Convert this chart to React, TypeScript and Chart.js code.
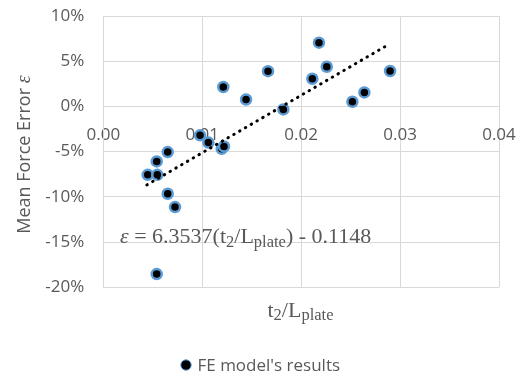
import React, { useEffect, useRef } from 'react';
import { Chart, registerables } from 'chart.js';

Chart.register(...registerables);

// ---- data ----
const X_VALUES = [0.00449, 0.00546, 0.0054, 0.00651, 0.00651, 0.00725, 0.0054, 0.00978, 0.01062, 0.01197, 0.0122, 0.01213, 0.01443, 0.01665, 0.0182, 0.02113, 0.0218, 0.02259, 0.02518, 0.02639, 0.02899];
const Y_VALUES = [-7.56, -7.56, -6.08, -5.05, -9.66, -11.13, -18.54, -3.2, -4.0, -4.68, -4.42, 2.15, 0.77, 3.9, -0.33, 3.06, 7.05, 4.39, 0.52, 1.55, 3.92];
const TREND_X = [0.0044, 0.0287];
const TREND_Y = [-8.68, 6.76];
const X_TICKS = [0, 0.01, 0.02, 0.03, 0.04];
const Y_TICKS = [-20, -15, -10, -5, 0, 5, 10];
const SERIES_LABEL = "FE model's results";
const Y_TITLE = 'Mean Force Error ';
const EPS = 'ε';
const SLOPE = '6.3537';
const INTERCEPT = '0.1148';

const GRAY = '#595959';
const GRID = '#D9D9D9';
const SANS = '"Open Sans", sans-serif';
const SERIF = '"Liberation Serif", serif';

type Seg = { t: string; f: string; dy?: number };

function drawRich(ctx: CanvasRenderingContext2D, segs: Seg[], x: number, y: number, align: 'left' | 'center') {
  const widths = segs.map((s) => {
    ctx.font = s.f;
    return ctx.measureText(s.t).width;
  });
  const total = widths.reduce((a, b) => a + b, 0);
  let cx = align === 'center' ? x - total / 2 : x;
  ctx.textAlign = 'left';
  ctx.textBaseline = 'alphabetic';
  segs.forEach((s, i) => {
    ctx.font = s.f;
    ctx.fillText(s.t, cx, y + (s.dy || 0));
    cx += widths[i];
  });
}

const textPlugin = {
  id: 'textPlugin',
  afterDraw(chart: any) {
    const ctx: CanvasRenderingContext2D = chart.ctx;
    ctx.save();
    ctx.fillStyle = GRAY;
    const main = `22px ${SERIF}`;
    const sub = `16.5px ${SERIF}`;
    const it = `italic 22px ${SERIF}`;
    // equation
    drawRich(
      ctx,
      [
        { t: EPS, f: it },
        { t: ' = ' + SLOPE + '(t', f: main },
        { t: '2', f: sub, dy: 3.5 },
        { t: '/L', f: main },
        { t: 'plate', f: sub, dy: 3.5 },
        { t: ') - ' + INTERCEPT, f: main },
      ],
      120,
      243,
      'left'
    );
    // x title
    drawRich(
      ctx,
      [
        { t: 't', f: main },
        { t: '2', f: sub, dy: 3.5 },
        { t: '/L', f: main },
        { t: 'plate', f: sub, dy: 3.5 },
      ],
      300.5,
      316.5,
      'center'
    );
    // y title
    ctx.save();
    ctx.translate(29.5, 154.6);
    ctx.rotate(-Math.PI / 2);
    drawRich(
      ctx,
      [
        { t: Y_TITLE, f: `18px ${SANS}` },
        { t: EPS, f: `italic 20px ${SERIF}` },
      ],
      0,
      0,
      'center'
    );
    ctx.restore();
    // legend
    const ds = chart.data.datasets[0];
    ctx.beginPath();
    ctx.arc(186, 365, 5.2, 0, Math.PI * 2);
    ctx.fillStyle = '#000';
    ctx.fill();
    ctx.lineWidth = 1;
    ctx.strokeStyle = '#5B9BD5';
    ctx.stroke();
    ctx.fillStyle = GRAY;
    ctx.font = `17px ${SANS}`;
    ctx.textAlign = 'left';
    ctx.textBaseline = 'alphabetic';
    ctx.fillText(ds.label, 197.5, 371);
    ctx.restore();
  },
};

export default function App() {
  const ref = useRef<HTMLCanvasElement | null>(null);
  useEffect(() => {
    if (!ref.current) return;
    const chart = new Chart(ref.current, {
      type: 'scatter',
      data: {
        datasets: [
          {
            label: SERIES_LABEL,
            data: X_VALUES.map((x, i) => ({ x, y: Y_VALUES[i] })),
            backgroundColor: '#000000',
            borderColor: '#5B9BD5',
            borderWidth: 2.5,
            pointRadius: 5,
            pointHoverRadius: 5,
            order: 1,
          },
          {
            label: 'trend',
            type: 'line',
            data: TREND_X.map((x, i) => ({ x, y: TREND_Y[i] })),
            borderColor: '#000000',
            borderWidth: 3,
            borderDash: [0.5, 6.2],
            borderCapStyle: 'round',
            pointRadius: 0,
            fill: false,
            order: 0,
          } as any,
        ],
      },
      options: {
        animation: false,
        responsive: true,
        maintainAspectRatio: false,
        layout: { padding: { left: 0, right: 28, top: 16, bottom: 88.7 } },
        plugins: { legend: { display: false }, tooltip: { enabled: false } },
        scales: {
          x: {
            type: 'linear',
            position: { y: 0 } as any,
            min: 0,
            max: 0.04,
            afterBuildTicks: (s: any) => {
              s.ticks = X_TICKS.map((v) => ({ value: v }));
            },
            afterFit: (s: any) => {
              s.paddingLeft = 0;
              s.paddingRight = 0;
            },
            ticks: {
              callback: (v: any) => Number(v).toFixed(2),
              color: GRAY,
              font: { family: SANS, size: 17 },
              padding: 18.5,
              maxRotation: 0,
            },
            grid: { color: GRID, drawTicks: false, lineWidth: 1 },
            border: { color: GRID },
          },
          y: {
            type: 'linear',
            min: -20,
            max: 10,
            afterBuildTicks: (s: any) => {
              s.ticks = Y_TICKS.map((v) => ({ value: v }));
            },
            afterFit: (s: any) => {
              s.width = 103.3;
              s.paddingTop = 0;
              s.paddingBottom = 0;
            },
            ticks: {
              callback: (v: any) => `${v}%`,
              color: GRAY,
              font: { family: SANS, size: 17 },
              padding: 19,
            },
            grid: { color: GRID, drawTicks: false, lineWidth: 1 },
            border: { color: GRID },
          },
        },
      },
      plugins: [textPlugin],
    });
    return () => chart.destroy();
  }, []);
  return (
    <div style={{ position: 'absolute', left: 0, top: 0, width: 527, height: 376 }}>
      <canvas ref={ref} />
    </div>
  );
}
